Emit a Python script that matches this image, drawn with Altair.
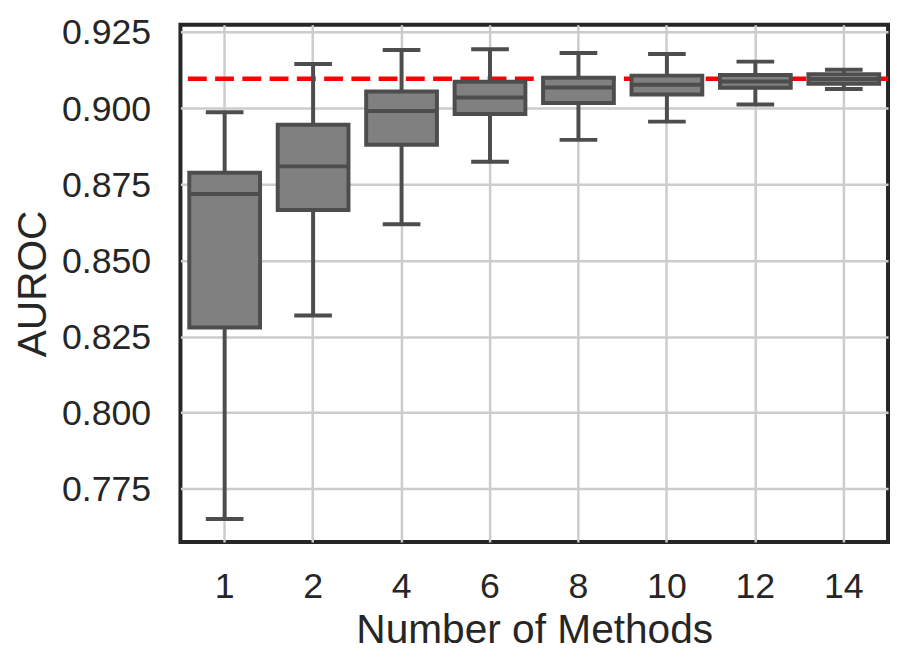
import altair as alt
import pandas as pd

# ---- data ----
categories = ["1", "2", "4", "6", "8", "10", "12", "14"]
whisker_low = [0.7651, 0.8319, 0.8619, 0.8824, 0.8896, 0.8956, 0.9012, 0.9063]
q1 = [0.8280, 0.8666, 0.8880, 0.8981, 0.9017, 0.9045, 0.9067, 0.9080]
median = [0.8718, 0.8809, 0.8991, 0.9035, 0.9068, 0.9077, 0.9088, 0.9096]
q3 = [0.8788, 0.8946, 0.9055, 0.9087, 0.9100, 0.9107, 0.9109, 0.9112]
whisker_high = [0.8987, 0.9145, 0.9191, 0.9194, 0.9181, 0.9178, 0.9153, 0.9126]
reference_auroc = [0.9097]
y_ticks = [0.775, 0.800, 0.825, 0.850, 0.875, 0.900, 0.925]

df = pd.DataFrame({"n": categories, "lo": whisker_low, "q1": q1,
                   "med": median, "q3": q3, "hi": whisker_high})
ref_df = pd.DataFrame({"ref": reference_auroc})

W, H = 714, 522
step = W / len(categories)
BOX = "#4d4d4d"
FILL = "#808080"
TXT = "#262626"
FONT = "Liberation Sans"

x_enc = alt.X("n:N", sort=categories,
              scale=alt.Scale(paddingInner=0, paddingOuter=0),
              axis=alt.Axis(title="Number of Methods", labelAngle=0, bandPosition=0.5,
                            labelPadding=28, titlePadding=6))
yscale = alt.Scale(domain=[0.7575, 0.9274], nice=False, zero=False)
yaxis = alt.Axis(title="AUROC", values=y_ticks, format=".3f",
                 labelPadding=30, titlePadding=7, labelOffset=1)

base = alt.Chart(df)

refline = alt.Chart(ref_df).mark_rule(
    color="#ff0000", strokeWidth=4.5, strokeDash=[19, 8.5]
).encode(y=alt.Y("ref:Q", scale=yscale, axis=yaxis))

whiskers = base.mark_rule(color=BOX, strokeWidth=4).encode(
    x=x_enc, y=alt.Y("lo:Q", scale=yscale, axis=yaxis), y2="hi:Q")

caps_lo = base.mark_tick(orient="horizontal", size=38, thickness=4, color=BOX, opacity=1).encode(
    x=x_enc, y=alt.Y("lo:Q", scale=yscale, axis=yaxis))
caps_hi = base.mark_tick(orient="horizontal", size=38, thickness=4, color=BOX, opacity=1).encode(
    x=x_enc, y=alt.Y("hi:Q", scale=yscale, axis=yaxis))

boxes = base.mark_bar(width=alt.RelativeBandSize(0.8), fill=FILL, stroke=BOX,
                      strokeWidth=4, opacity=1).encode(
    x=x_enc, y=alt.Y("q1:Q", scale=yscale, axis=yaxis), y2="q3:Q")

medians = base.mark_tick(orient="horizontal", size=step * 0.8, thickness=4,
                         color=BOX, opacity=1).encode(
    x=x_enc, y=alt.Y("med:Q", scale=yscale, axis=yaxis))

chart = alt.layer(refline, whiskers, caps_lo, caps_hi, boxes, medians).properties(
    width=W, height=H,
    autosize=alt.AutoSizeParams(type="none"),
    padding={"left": 174, "top": 14, "right": 2, "bottom": 112},
).configure_view(
    stroke=TXT, strokeWidth=4
).configure_axis(
    domain=False, ticks=False, tickSize=0, grid=True,
    gridColor="#cccccc", gridWidth=2.5, gridOpacity=1,
    labelFont=FONT, titleFont=FONT, labelFontSize=36, titleFontSize=41,
    labelColor=TXT, titleColor=TXT, titleFontWeight="normal"
)

chart.save("out.html", embed_options={"renderer": "svg", "actions": False})
